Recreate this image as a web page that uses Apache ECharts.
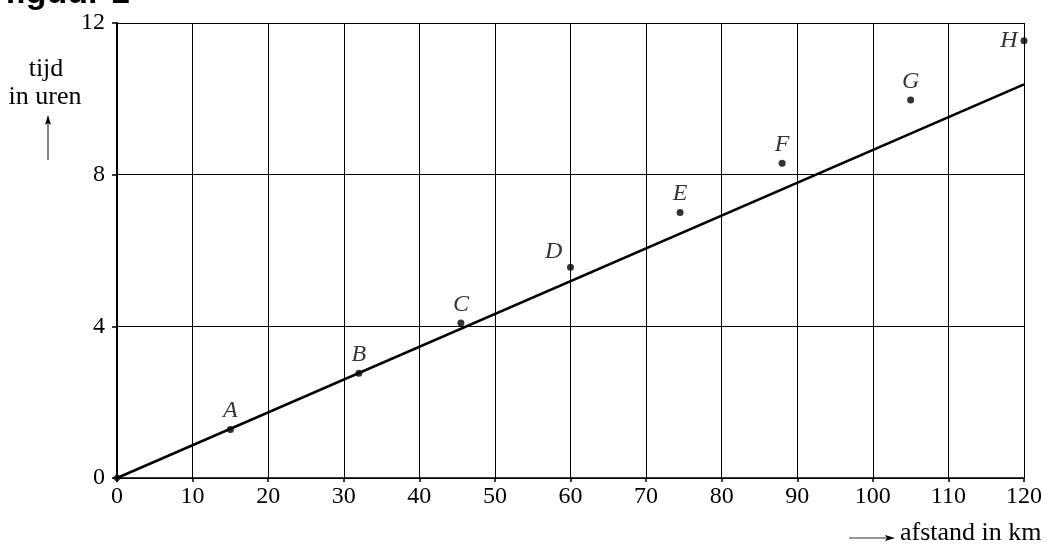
<!DOCTYPE html>
<html><head><meta charset="utf-8">
<script src="https://cdn.jsdelivr.net/npm/echarts@6/dist/echarts.min.js"></script>
<style>html,body{margin:0;padding:0;background:#fff}#c{width:1047px;height:545px}</style>
</head><body><div id="c"></div>
<script>
const pointLabels = ['A','B','C','D','E','F','G','H'];
const afstand = [15, 32, 45.5, 60, 74.5, 88, 105, 120];
const tijd = [1.28, 2.76, 4.09, 5.56, 7.0, 8.3, 9.97, 11.53];
const lineX = [0, 120];
const lineY = [0, 10.38];
const xTicks = [0,10,20,30,40,50,60,70,80,90,100,110,120];
const yTicks = [0,4,8,12];
const labelPos = {A:'top',B:'top',C:'top',D:[-22,-24],E:'top',F:'top',G:'top',H:'left'};

const serif = '"Liberation Serif","DejaVu Serif",serif';
const chart = echarts.init(document.getElementById('c'));
chart.setOption({
  animation:false,
  grid:{left:117,right:23,top:23,bottom:67},
  xAxis:{type:'value',min:0,max:120,interval:10,
    axisLine:{show:true,onZero:false,lineStyle:{color:'#000',width:1.5}},
    axisTick:{show:true,inside:false,length:4,lineStyle:{color:'#000',width:1.5}},
    axisLabel:{color:'#000',fontFamily:serif,fontSize:24,margin:7,
      formatter:v=>xTicks.includes(v)?String(v):''},
    splitLine:{show:true,lineStyle:{color:'#000',width:1}}},
  yAxis:{type:'value',min:0,max:12,interval:4,
    axisLine:{show:true,onZero:false,lineStyle:{color:'#000',width:2}},
    axisTick:{show:true,length:5,lineStyle:{color:'#000',width:1.5}},
    axisLabel:{color:'#000',fontFamily:serif,fontSize:24,margin:12,
      formatter:v=>yTicks.includes(v)?String(v):''},
    splitLine:{show:true,lineStyle:{color:'#000',width:1}}},
  series:[
    {type:'line',data:lineX.map((x,i)=>[x,lineY[i]]),symbol:'none',
     lineStyle:{color:'#000',width:2.5},z:3},
    {type:'scatter',data:[[0,0]],symbol:'diamond',symbolSize:9,itemStyle:{color:'#000'},z:4},
    {type:'scatter',symbolSize:7,itemStyle:{color:'#000'},z:5,
     data:afstand.map((x,i)=>({value:[x,tijd[i]],name:pointLabels[i],
       label:{position:labelPos[pointLabels[i]]}})),
     label:{show:true,formatter:p=>p.name,fontFamily:serif,fontStyle:'italic',
       fontSize:24,color:'#000',distance:3}}
  ],
  graphic:[
    {type:'text',x:5,y:-6,style:{text:'figuur 1',font:'bold 34px "Liberation Sans",Arial,sans-serif',fill:'#000',verticalAlign:'middle'}},
    {type:'text',x:46,y:69,style:{text:'tijd',font:'26px '+serif,fill:'#000',align:'center',verticalAlign:'middle'}},
    {type:'text',x:45,y:97,style:{text:'in uren',font:'26px '+serif,fill:'#000',align:'center',verticalAlign:'middle'}},
    {type:'line',shape:{x1:48,y1:160,x2:48,y2:122},style:{stroke:'#333',lineWidth:1.2}},
    {type:'polygon',shape:{points:[[48,115],[45,125],[48,123],[51,125]]},style:{fill:'#000'}},
    {type:'line',shape:{x1:849,y1:538,x2:888,y2:538},style:{stroke:'#333',lineWidth:1.2}},
    {type:'polygon',shape:{points:[[895,538],[885,535],[887,538],[885,541]]},style:{fill:'#000'}},
    {type:'text',x:900,y:533,style:{text:'afstand in km',font:'26px '+serif,fill:'#000',verticalAlign:'middle'}}
  ]
});
</script></body></html>
